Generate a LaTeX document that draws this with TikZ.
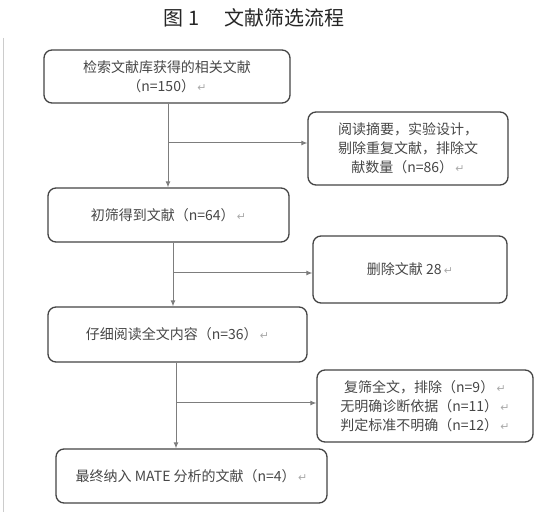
\documentclass[tikz,border=0pt]{standalone}
\usepackage{fontspec}
\usepackage{tikz}
\usepackage{xcolor}
\usetikzlibrary{arrows.meta,positioning,calc}
\newfontfamily\cjkfont{Noto Sans CJK SC}
\newfontfamily\symfont{DejaVu Sans}
\definecolor{BoxLine}{RGB}{68,68,68}
\definecolor{FlowLine}{RGB}{125,125,125}
\definecolor{TextGray}{RGB}{70,70,70}
\definecolor{MarkGray}{RGB}{170,170,170}
\newcommand{\retmark}{\,{\symfont\fontsize{11}{12}\selectfont\color{MarkGray}↵}}

\begin{document}
\begin{tikzpicture}[x=1pt, y=-1pt,
  every node/.style={font=\cjkfont\fontsize{14}{19}\selectfont, text=TextGray},
  box/.style={draw=BoxLine, line width=1.3pt, rounded corners=8pt, align=center, inner sep=0pt},
  flow/.style={draw=FlowLine, line width=1pt, -{Latex[length=6pt,width=5pt]}}]
\useasboundingbox (0,0) rectangle (547,526);
\draw[MarkGray!60, line width=0.6pt] (3,38) -- (3,512);
\node[font=\cjkfont\fontsize{20}{24}\selectfont, text=black!85] (title) at (254,18) {图\ 1\quad\ 文献筛选流程};

% main column
\node[box, minimum width=246pt, minimum height=53pt] (search) at (167,76.5) {检索文献库获得的相关文献\\（n=150）\retmark};
\node[box, minimum width=241pt, minimum height=54pt] (screen) at (168.5,215) {初筛得到文献（n=64）\retmark};
\node[box, minimum width=259pt, minimum height=55pt] (fulltext) at (177.5,334.5) {仔细阅读全文内容（n=36）\retmark};
\node[box, minimum width=271pt, minimum height=54pt] (final) at (191.5,476) {最终纳入 MATE 分析的文献（n=4）\retmark};

% side boxes
\node[box, minimum width=200pt, minimum height=73pt] (abstract) at (408,148.5) {阅读摘要，实验设计，\\剔除重复文献，排除文\\献数量（n=86）\retmark};
\node[box, minimum width=194pt, minimum height=67pt] (delete) at (410,269.5) {删除文献 28\retmark};
\node[box, minimum width=216pt, minimum height=72pt] (exclude) at (425,406) {复筛全文，排除（n=9）\retmark\\无明确诊断依据（n=11）\retmark\\判定标准不明确（n=12）\retmark};

% connectors
\coordinate (j1) at (168,143);
\coordinate (j2) at (173,273);
\coordinate (j3) at (176,403);
\draw[flow] (search.south -| j1) -- (screen.north -| j1);
\draw[flow] (j1) -- (j1 -| abstract.west);
\draw[flow] (screen.south -| j2) -- (fulltext.north -| j2);
\draw[flow] (j2) -- (j2 -| delete.west);
\draw[flow] (fulltext.south -| j3) -- (final.north -| j3);
\draw[flow] (j3) -- (j3 -| exclude.west);
\end{tikzpicture}
\end{document}
